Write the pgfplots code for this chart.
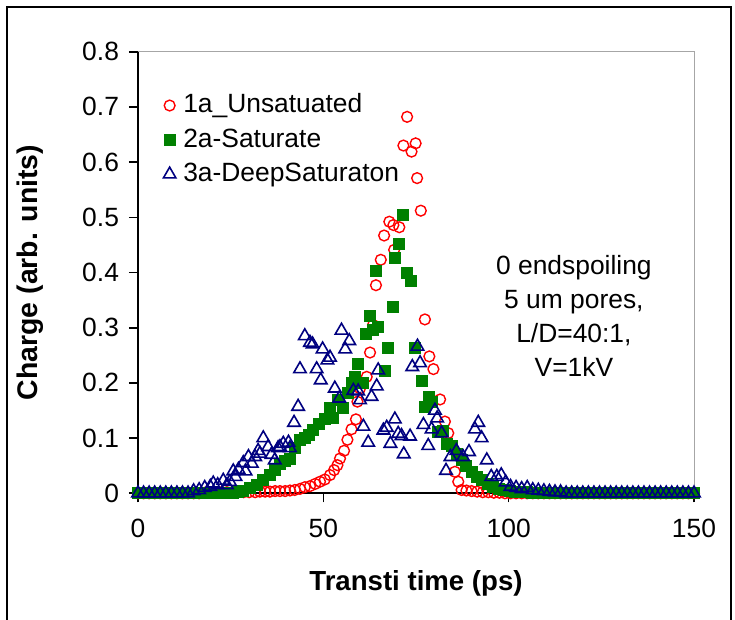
\documentclass[border=0pt]{standalone}
\usepackage{fontspec}
\setmainfont{Liberation Sans}
\usepackage{pgfplots}
\pgfplotsset{compat=1.18}
\definecolor{myred}{RGB}{255,0,0}
\definecolor{mygreen}{RGB}{0,128,0}
\definecolor{myblue}{RGB}{0,0,128}
\pgfplotstableread{
x y
0 0
1.5 0
3 0
4.5 0
6 0
7.5 0
9 0
10.5 0
12 0
13.5 0
15 0
16.5 0
18 0.001
19.5 0.001
21 0.002
22.5 0.002
24 0.002
25.5 0.002
27 0.002
28.5 0.002
30 0.002
31.6 0.002
32.9 0.003
34.3 0.003
35.6 0.003
37.0 0.004
38.3 0.004
39.7 0.004
41.0 0.005
42.3 0.006
43.7 0.008
45.0 0.011
46.4 0.013
47.8 0.017
49.1 0.021
50.4 0.025
51.8 0.033
52.9 0.042
53.8 0.051
54.5 0.063
55.6 0.077
56.5 0.097
57.6 0.116
58.8 0.134
59.2 0.166
59.9 0.190
61.7 0.211
62.6 0.255
63.4 0.305
64.2 0.377
65.5 0.423
66.4 0.467
67.8 0.492
68.9 0.486
69.1 0.441
70.5 0.482
71.6 0.630
72.6 0.682
73.8 0.619
74.9 0.634
75.3 0.571
76.3 0.512
77.4 0.315
78.6 0.248
79.7 0.225
81.5 0.170
82.8 0.130
83.7 0.109
85.5 0.039
86.4 0.021
87.3 0.006
88.6 0.005
90.0 0.004
91.5 0.003
93 0.002
94.5 0.002
96 0.001
97.5 0.001
99 0
100.5 0
102 0
103.5 0
105 0
106.5 0
108 0
109.5 0
111 0
112.5 0
114 0
115.5 0
117 0
118.5 0
120 0
121.5 0
123 0
124.5 0
126 0
127.5 0
129 0
130.5 0
132 0
133.5 0
135 0
136.5 0
138 0
139.5 0
141 0
142.5 0
144 0
145.5 0
147 0
148.5 0
150 0
}\reddata
\pgfplotstableread{
x y
0 0
1.5 0
3 0
4.5 0
6 0
7.5 0
9 0
10.5 0
12 0
13.5 0
15 0
16.5 0
18 0
19.5 0
21 0
22.5 0
24 0
25.5 0.001
27 0.002
28.4 0.004
30.2 0.010
32.0 0.016
33.8 0.024
35.6 0.033
37.0 0.042
38.3 0.054
39.7 0.058
41.0 0.063
42.4 0.082
43.7 0.097
45.0 0.100
46.1 0.106
47.3 0.115
48.9 0.126
50.4 0.134
51.8 0.154
52.7 0.136
54.0 0.170
55.4 0.155
56.7 0.181
57.6 0.200
58.5 0.211
59.2 0.234
60.6 0.200
61.5 0.289
62.6 0.322
63.4 0.296
64.2 0.403
64.8 0.301
66.6 0.222
67.5 0.263
68.7 0.337
69.2 0.426
70.3 0.452
71.4 0.504
72.5 0.400
73.7 0.385
74.7 0.264
76.5 0.204
77.4 0.156
78.4 0.175
79.4 0.166
81.0 0.112
82.2 0.113
83.3 0.090
84.6 0.085
86.0 0.072
87.5 0.060
88.5 0.050
90.0 0.039
91.5 0.030
92.8 0.024
94.3 0.017
95.8 0.012
97.3 0.008
98.8 0.006
100.3 0.004
101.8 0.003
103.3 0.002
104.8 0.002
106.3 0.001
107.8 0.001
109.5 0
111 0
112.5 0
114 0
115.5 0
117 0
118.5 0
120 0
121.5 0
123 0
124.5 0
126 0
127.5 0
129 0
130.5 0
132 0
133.5 0
135 0
136.5 0
138 0
139.5 0
141 0
142.5 0
144 0
145.5 0
147 0
148.5 0
150 0
}\greendata
\pgfplotstableread{
x y
0 0
1.5 0
3 0
4.5 0
6 0
7.5 0
9 0
10.5 0
12 0
13.5 0
15 0.004
16.5 0.006
18 0.010
19.5 0.012
20.3 0.018
21.5 0.015
23.0 0.023
24.0 0.015
24.8 0.021
25.7 0.040
26.3 0.030
27.1 0.043
28.4 0.055
29.0 0.040
29.8 0.066
30.7 0.054
31.6 0.066
32.4 0.077
32.9 0.072
33.8 0.100
35.1 0.084
36.0 0.070
36.9 0.060
37.8 0.082
38.3 0.084
39.2 0.090
40.6 0.092
41.0 0.082
42.1 0.128
43.2 0.157
43.7 0.225
45.0 0.285
46.4 0.273
47.1 0.270
48.2 0.225
49.3 0.205
49.8 0.261
51.1 0.241
51.8 0.246
53.1 0.190
54.3 0.172
54.9 0.295
55.9 0.261
57.0 0.276
58.1 0.186
59.4 0.185
59.9 0.169
60.8 0.121
62.1 0.092
63.0 0.175
64.4 0.194
64.8 0.223
66.2 0.114
67.1 0.119
68.1 0.090
69.3 0.134
70.2 0.108
71.1 0.104
71.7 0.071
73.4 0.103
74.0 0.229
75.4 0.266
76.1 0.236
77.0 0.124
78.3 0.086
79.2 0.116
80.1 0.150
80.7 0.136
81.9 0.109
83.1 0.041
84.3 0.066
85.9 0.077
87.7 0.066
89.3 0.075
90.9 0.116
91.8 0.128
92.7 0.100
94.1 0.060
95.3 0.030
96.8 0.030
98.0 0.033
99.2 0.020
100.5 0.012
102 0.010
103.5 0.008
105 0.010
106.5 0.006
108 0.005
109.5 0.004
111 0.003
112.5 0.002
114 0.002
115.5 0
117 0
118.5 0
120 0
121.5 0
123 0
124.5 0
126 0
127.5 0
129 0
130.5 0
132 0
133.5 0
135 0
136.5 0
138 0
139.5 0
141 0
142.5 0
144 0
145.5 0
147 0
148.5 0
150 0
}\bluedata
\begin{document}
\begin{tikzpicture}
\useasboundingbox (0,0) rectangle (367.5pt,310pt);
\draw[line width=1.1pt] (3.5pt,-5pt) -- (3.5pt,306.5pt) -- (365.5pt,306.5pt) -- (365.5pt,-5pt);
\begin{axis}[
  at={(69pt,63.35pt)}, anchor=south west,
  scale only axis, width=278pt, height=220.8pt,
  xmin=0, xmax=150, ymin=0, ymax=0.8,
  axis x line*=bottom, axis y line*=left,
  axis line style={line width=0.9pt, black},
  xtick={0,50,100,150}, ytick={0,0.1,0.2,0.3,0.4,0.5,0.6,0.7,0.8},
  tick align=outside, major tick length=4.5pt,
  tick style={line width=0.8pt, black},
  clip=false,
  font=\fontsize{13.2}{15}\selectfont,
  /pgf/number format/assume math mode=true,
  yticklabel style={/pgf/number format/fixed, /pgf/number format/precision=1, xshift=-1.5pt},
  xticklabel style={yshift=-5pt},
  xlabel={\bfseries Transti time (ps)},
  ylabel={\bfseries Charge (arb. units)},
  x label style={at={(axis description cs:0.5,-0.205)}, anchor=center, font=\fontsize{13.8}{16}\selectfont},
  y label style={at={(axis description cs:-0.194,0.5)}, anchor=center, font=\fontsize{14.2}{16}\selectfont},
  legend style={draw=none, fill=none, at={(rel axis cs:0.045,0.918)}, anchor=north west,
    inner sep=0pt, row sep=0pt, font=\fontsize{13.2}{15}\selectfont,
    nodes={inner sep=2.4pt, text height=9.8pt, text depth=2.6pt}},
  legend cell align=left,
  legend image code/.code={\draw[#1] plot coordinates {(0pt,0pt)}; \path (4pt,0pt);},
]
\draw[gray!70, line width=0.5pt] (rel axis cs:0,1) -- (rel axis cs:1,1) -- (rel axis cs:1,0);
\addplot[only marks, mark=o, mark size=2.7pt, draw=myred, line width=0.7pt] table {\reddata};
\addlegendentry{1a\_Unsatuated}
\addplot[only marks, mark=square*, mark size=2.75pt, draw=mygreen, fill=mygreen] table {\greendata};
\addlegendentry{2a-Saturate}
\addplot[only marks, mark=triangle, mark size=3.6pt, draw=myblue, line width=0.8pt] table {\bluedata};
\addlegendentry{3a-DeepSaturaton}
\node[align=center, font=\fontsize{13.2}{17}\selectfont] at (axis cs:117.6,0.3205) {0 endspoiling\\5 um pores,\\L/D=40:1,\\V=1kV};
\end{axis}
\end{tikzpicture}
\end{document}
